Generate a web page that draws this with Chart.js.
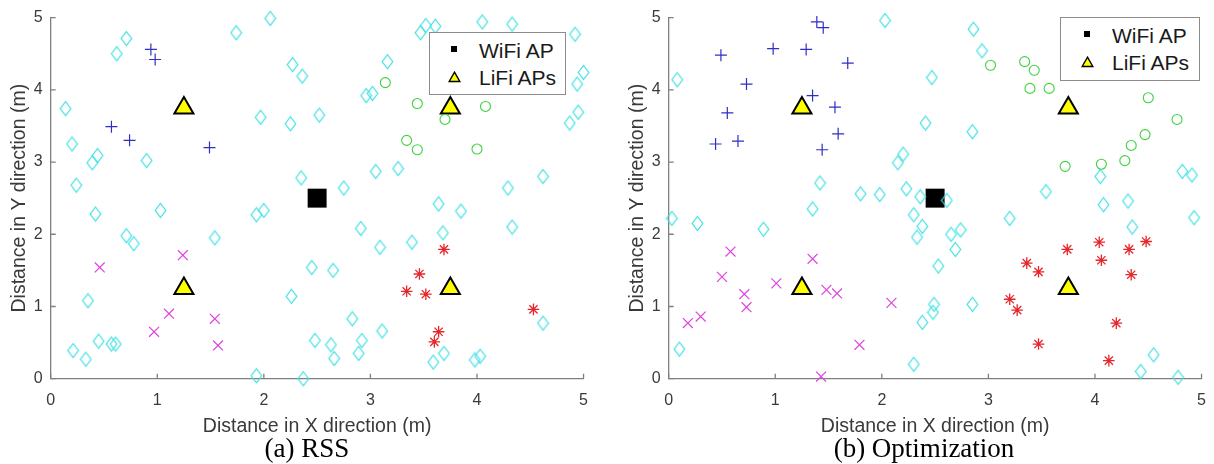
<!DOCTYPE html>
<html>
<head>
<meta charset="utf-8">
<script src="https://cdn.jsdelivr.net/npm/chart.js@4.4.1/dist/chart.umd.min.js"></script>
<style>
  html, body { margin: 0; padding: 0; background: #fff; overflow: hidden; width: 1214px; height: 464px; }
  canvas.panel { position: absolute; top: 0; }
  .legend { position: absolute; background: #fff; border: 1px solid #8c8c8c; box-sizing: border-box;
            font-family: 'Liberation Sans', Arial, Helvetica, sans-serif; font-size: 21px; color: #1a1a1a; }
  .legend .txt { position: absolute; line-height: 21px; white-space: nowrap; }
  .legend .sq { position: absolute; width: 6px; height: 6px; background: #000; }
  .legend svg { position: absolute; }
  .caption { position: absolute; top: 435px; width: 300px; text-align: center; white-space: nowrap;
             font-family: 'Liberation Serif', 'Times New Roman', serif; font-size: 27px; line-height: 27px; color: #000; }
</style>
</head>
<body>
<canvas id="rss" class="panel" width="600" height="464" style="left:0px"></canvas>
<canvas id="opt" class="panel" width="600" height="464" style="left:618px"></canvas>

<div class="legend" style="left:429px;top:32px;width:137px;height:63px">
  <div class="sq" style="left:21px;top:13px"></div>
  <svg style="left:18px;top:38px" width="13" height="12"><polygon points="6.5,1.2 11.8,10.5 1.2,10.5" fill="#ffff00" stroke="#000" stroke-width="1.4"/></svg>
  <span class="txt" style="left:49px;top:7px">WiFi AP</span>
  <span class="txt" style="left:49px;top:34px">LiFi APs</span>
</div>
<div class="legend" style="left:1060px;top:17px;width:140px;height:64px">
  <div class="sq" style="left:23px;top:13px"></div>
  <svg style="left:20px;top:38px" width="13" height="12"><polygon points="6.5,1.2 11.8,10.5 1.2,10.5" fill="#ffff00" stroke="#000" stroke-width="1.4"/></svg>
  <span class="txt" style="left:51px;top:7px">WiFi AP</span>
  <span class="txt" style="left:51px;top:34px">LiFi APs</span>
</div>

<div class="caption" style="left:157px">(a) RSS</div>
<div class="caption" style="left:774px">(b) Optimization</div>

<script>
// Axis ticks (metres)
const xTicks = [0, 1, 2, 3, 4, 5];
const yTicks = [0, 1, 2, 3, 4, 5];

// Access point positions (same in both layouts)
const wifiAP = [[2.5, 2.5]];
const lifiAPs = [[1.25, 3.75], [3.75, 3.75], [1.25, 1.25], [3.75, 1.25]];

// (a) RSS: users grouped by serving AP
const rssWifiUsers = [
  [0.71, 4.71], [0.62, 4.50], [0.14, 3.74], [0.20, 3.25], [0.44, 3.09], [0.39, 2.99], [0.90, 3.02], [0.24, 2.68],
  [1.74, 4.79], [2.06, 4.99], [2.27, 4.35], [2.36, 4.19], [1.97, 3.62], [2.25, 3.53], [2.52, 3.65], [2.35, 2.78],
  [0.42, 2.28], [1.03, 2.33], [0.71, 1.98], [0.78, 1.87], [1.54, 1.95], [1.93, 2.27], [2.00, 2.33], [2.45, 1.54],
  [0.35, 1.08], [2.26, 1.14], [0.45, 0.52], [0.57, 0.48], [0.61, 0.48], [0.21, 0.39], [0.33, 0.27], [1.93, 0.04],
  [2.37, 0.00], [2.48, 0.53],
  [3.47, 4.79], [3.52, 4.89], [3.61, 4.88], [4.05, 4.94], [4.33, 4.91], [4.92, 4.77], [3.16, 4.39], [2.96, 3.92],
  [3.02, 3.95], [5.00, 4.24], [4.94, 4.08], [4.95, 3.69], [4.87, 3.54], [3.26, 2.91], [3.05, 2.87], [2.75, 2.64],
  [4.29, 2.64], [4.62, 2.80],
  [3.64, 2.42], [3.85, 2.32], [2.91, 2.08], [4.33, 2.10], [3.68, 2.02], [3.09, 1.82], [3.39, 1.89], [2.65, 1.50],
  [2.83, 0.83], [3.11, 0.66], [2.63, 0.47], [2.92, 0.53], [2.89, 0.35], [2.66, 0.28], [3.69, 0.35], [3.59, 0.23],
  [3.98, 0.26], [4.03, 0.31], [4.62, 0.77]
];
const rssLifi1Users = [[0.94, 4.56], [0.98, 4.42], [0.57, 3.49], [0.74, 3.30], [1.49, 3.20]];
const rssLifi2Users = [[3.14, 4.10], [3.44, 3.81], [4.08, 3.77], [3.70, 3.59], [3.34, 3.30], [3.44, 3.17], [4.00, 3.18]];
const rssLifi3Users = [[0.46, 1.54], [1.24, 1.71], [1.11, 0.90], [0.97, 0.65], [1.54, 0.83], [1.57, 0.46]];
const rssLifi4Users = [[3.69, 1.79], [3.46, 1.45], [3.34, 1.21], [3.52, 1.17], [4.53, 0.96], [3.64, 0.65], [3.60, 0.51]];

// (b) Optimization: users grouped by serving AP
const optWifiUsers = [
  [0.08, 4.14], [2.03, 4.96], [2.47, 4.17], [2.41, 3.54], [2.20, 3.11], [2.15, 2.99], [1.42, 2.71], [1.80, 2.56],
  [1.98, 2.55], [2.23, 2.63], [2.36, 2.52],
  [0.03, 2.22], [0.27, 2.15], [1.35, 2.35], [0.89, 2.07], [2.30, 2.27], [2.38, 2.11], [2.33, 1.96], [2.53, 1.56],
  [2.49, 1.03], [2.48, 0.92], [2.38, 0.78], [0.10, 0.41], [2.30, 0.20],
  [2.86, 4.84], [2.94, 4.54], [2.85, 3.42], [4.05, 2.80], [4.82, 2.87], [4.91, 2.82], [3.54, 2.59],
  [2.61, 2.47], [4.08, 2.41], [4.31, 2.46], [3.20, 2.22], [4.93, 2.23], [4.35, 2.10], [2.65, 2.00], [2.74, 2.06],
  [2.69, 1.79], [2.85, 1.03], [4.55, 0.33], [4.43, 0.10], [4.78, 0.02]
];
const optLifi1Users = [
  [1.39, 4.94], [1.45, 4.86], [0.49, 4.48], [0.98, 4.57], [1.29, 4.56], [1.68, 4.37], [0.73, 4.08],
  [0.55, 3.68], [1.35, 3.92], [1.56, 3.76], [0.44, 3.25], [0.65, 3.29], [1.59, 3.39], [1.44, 3.17]
];
const optLifi2Users = [
  [3.02, 4.34], [3.34, 4.39], [3.43, 4.27], [3.39, 4.02], [3.57, 4.02], [4.50, 3.89], [4.77, 3.59],
  [4.47, 3.38], [4.34, 3.23], [4.28, 3.02], [4.06, 2.97], [3.72, 2.94]
];
const optLifi3Users = [
  [0.58, 1.76], [1.35, 1.66], [0.50, 1.41], [1.01, 1.32], [0.71, 1.17], [0.73, 0.99], [1.48, 1.23],
  [1.58, 1.18], [2.09, 1.05], [0.30, 0.86], [0.18, 0.77], [1.79, 0.47], [1.43, 0.03]
];
const optLifi4Users = [
  [3.74, 1.79], [4.04, 1.89], [4.32, 1.79], [4.48, 1.90], [4.06, 1.64], [4.34, 1.44], [3.36, 1.60],
  [3.47, 1.48], [3.20, 1.10], [3.27, 0.95], [4.20, 0.77], [3.47, 0.48], [4.13, 0.25]
];

const SANS = "'Liberation Sans', Arial, Helvetica, sans-serif";
const TXT = '#3a3a3a';
const AXIS = '#808080';
const CYAN = '#3fe0e4';
const BLUE = '#2f2fc8';
const GREEN = '#3fd23f';
const MAGENTA = '#dd44dd';
const RED = '#e6262a';

// Hollow, slightly tall diamond marker
function diamondMarker(color) {
  const c = document.createElement('canvas');
  c.width = 13; c.height = 17;
  const g = c.getContext('2d');
  g.strokeStyle = color;
  g.lineWidth = 1.2;
  g.beginPath();
  g.moveTo(6.5, 1.5);
  g.lineTo(11.8, 8.5);
  g.lineTo(6.5, 15.5);
  g.lineTo(1.2, 8.5);
  g.closePath();
  g.stroke();
  return c;
}
const diamond = diamondMarker(CYAN);

const toPoints = list => list.map(([x, y]) => ({ x, y }));

function markerSet(list, style, radius, color, width) {
  return {
    data: toPoints(list), pointStyle: style, pointRadius: radius, pointHoverRadius: radius,
    borderColor: color, backgroundColor: 'rgba(0,0,0,0)', borderWidth: width, pointBorderWidth: width,
    clip: false, order: 0
  };
}

function datasets(wifiUsers, l1, l2, l3, l4) {
  return [
    { label: 'WiFi AP', data: toPoints(wifiAP), pointStyle: 'rect', pointRadius: 13.4, pointHoverRadius: 13.4,
      backgroundColor: '#000', borderColor: '#000', borderWidth: 0, clip: false, order: 10 },
    { label: 'LiFi APs', data: toPoints(lifiAPs), pointStyle: 'triangle', pointRadius: 11, pointHoverRadius: 11,
      backgroundColor: '#ffff00', borderColor: '#000', borderWidth: 2, clip: false, order: 9 },
    markerSet(wifiUsers, diamond, 7, CYAN, 1),
    markerSet(l1, 'cross', 6, BLUE, 1.2),
    markerSet(l2, 'circle', 5, GREEN, 1.1),
    markerSet(l3, 'crossRot', 7, MAGENTA, 1.2),
    markerSet(l4, 'star', 5.8, RED, 1.3)
  ];
}

// MATLAB-style tick marks pointing into the plot area
const inwardTicks = {
  id: 'inwardTicks',
  afterDraw(chart) {
    const { ctx, chartArea: a, scales: { x, y } } = chart;
    ctx.save();
    ctx.strokeStyle = AXIS;
    ctx.lineWidth = 1.3;
    ctx.beginPath();
    x.ticks.forEach(t => { const p = x.getPixelForValue(t.value); ctx.moveTo(p, a.bottom); ctx.lineTo(p, a.bottom - 5); });
    y.ticks.forEach(t => { const p = y.getPixelForValue(t.value); ctx.moveTo(a.left, p); ctx.lineTo(a.left + 5, p); });
    ctx.stroke();
    ctx.restore();
  }
};

function options() {
  return {
    responsive: false,
    animation: false,
    events: [],
    layout: { padding: { left: 0, right: 16, top: 14, bottom: 25.3 } },
    plugins: { legend: { display: false }, tooltip: { enabled: false } },
    scales: {
      x: {
        type: 'linear', min: 0, max: 5,
        afterBuildTicks: s => { s.ticks = xTicks.map(v => ({ value: v })); },
        afterFit: s => { s.height = 60; },
        grid: { display: false, drawTicks: false },
        border: { display: true, color: AXIS, width: 1.3 },
        ticks: { font: { family: SANS, size: 16 }, color: TXT, padding: 12, maxRotation: 0, autoSkip: false },
        title: { display: true, text: 'Distance in X direction (m)', font: { family: SANS, size: 19.5 }, color: TXT,
                 padding: { top: 4, bottom: 0.4 } }
      },
      y: {
        type: 'linear', min: 0, max: 5,
        afterBuildTicks: s => { s.ticks = yTicks.map(v => ({ value: v })); },
        afterFit: s => { s.width = 50.7; },
        grid: { display: false, drawTicks: false },
        border: { display: true, color: AXIS, width: 1.3 },
        ticks: { font: { family: SANS, size: 16 }, color: TXT, padding: 8, autoSkip: false },
        title: { display: true, text: 'Distance in Y direction (m)', font: { family: SANS, size: 19.5 }, color: TXT,
                 padding: { top: 8, bottom: 4 } }
      }
    }
  };
}

new Chart(document.getElementById('rss'), {
  type: 'scatter',
  data: { datasets: datasets(rssWifiUsers, rssLifi1Users, rssLifi2Users, rssLifi3Users, rssLifi4Users) },
  options: options(),
  plugins: [inwardTicks]
});

new Chart(document.getElementById('opt'), {
  type: 'scatter',
  data: { datasets: datasets(optWifiUsers, optLifi1Users, optLifi2Users, optLifi3Users, optLifi4Users) },
  options: options(),
  plugins: [inwardTicks]
});
</script>
</body>
</html>
